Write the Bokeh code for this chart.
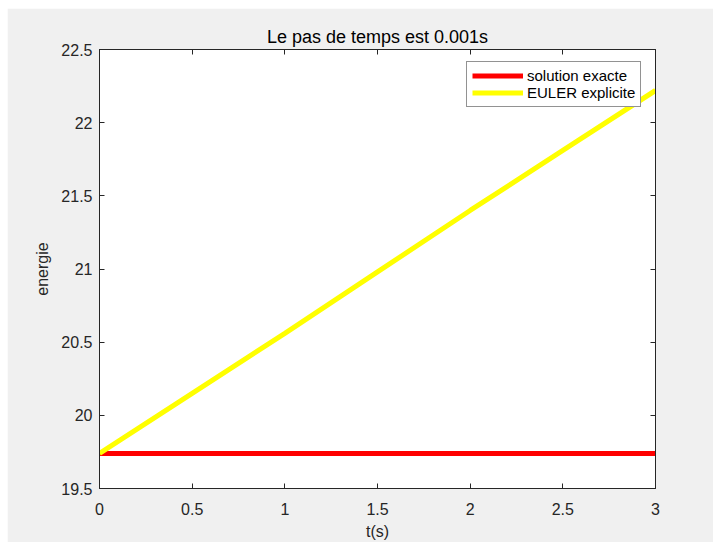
from bokeh.plotting import figure
from bokeh.models import LinearAxis, Range1d, Legend, LegendItem, FixedTicker
from bokeh.embed import file_html
from bokeh.resources import INLINE

# data
t = [0, 0.5, 1, 1.5, 2, 2.5, 3]
exact = [19.74, 19.74, 19.74, 19.74, 19.74, 19.74, 19.74]
euler = [19.74, 20.15, 20.56, 20.98, 21.40, 21.81, 22.22]
x_ticks = [0, 0.5, 1, 1.5, 2, 2.5, 3]
y_ticks = [19.5, 20, 20.5, 21, 21.5, 22, 22.5]
x_labels = {0: "0", 0.5: "0.5", 1: "1", 1.5: "1.5", 2: "2", 2.5: "2.5", 3: "3"}
y_labels = {19.5: "19.5", 20: "20", 20.5: "20.5", 21: "21", 21.5: "21.5", 22: "22", 22.5: "22.5"}

FONT = "Liberation Sans"
DARK = "#262626"

p = figure(width=706, height=534, output_backend="svg", toolbar_location=None,
           x_range=Range1d(0, 3), y_range=Range1d(19.5, 22.5),
           min_border_left=92, min_border_right=58, min_border_top=41, min_border_bottom=54,
           background_fill_color="white", border_fill_color="#f0f0f0",
           outline_line_color=DARK, outline_line_width=1,
           title="Le pas de temps est 0.001s")
p.margin = (8, 0, 0, 7)

p.title.align = "center"
p.title.text_font = FONT
p.title.text_font_size = "18px"
p.title.text_font_style = "normal"
p.title.text_color = "black"
p.title.standoff = 5

p.xgrid.visible = False
p.ygrid.visible = False

def style_axis(ax, labels=True):
    ax.axis_line_color = DARK
    ax.major_tick_line_color = DARK
    ax.major_tick_in = 5
    ax.major_tick_out = 0
    ax.minor_tick_line_color = None
    ax.major_label_text_font = FONT
    ax.major_label_text_font_size = "16px" if labels else "0px"
    ax.major_label_text_color = DARK
    ax.axis_label_text_font = FONT
    ax.axis_label_text_font_size = "16px"
    ax.axis_label_text_font_style = "normal"
    ax.axis_label_text_color = DARK

xa = p.xaxis[0]
xa.ticker = FixedTicker(ticks=x_ticks)
xa.major_label_overrides = x_labels
xa.axis_label = "t(s)"
style_axis(xa)
xa.major_label_standoff = 14
xa.axis_label_standoff = 5

ya = p.yaxis[0]
ya.ticker = FixedTicker(ticks=y_ticks)
ya.major_label_overrides = y_labels
ya.axis_label = "energie"
style_axis(ya)
ya.major_label_standoff = 7
ya.axis_label_standoff = 7

top = LinearAxis(ticker=FixedTicker(ticks=x_ticks), major_label_standoff=0, axis_label_standoff=0)
style_axis(top, labels=False)
p.add_layout(top, "above")
right = LinearAxis(ticker=FixedTicker(ticks=y_ticks), major_label_standoff=0, axis_label_standoff=0)
style_axis(right, labels=False)
p.add_layout(right, "right")

r1 = p.line(t, exact, line_color="#ff0000", line_width=5)
r2 = p.line(t, euler, line_color="#ffff00", line_width=5)

legend = Legend(items=[LegendItem(label="solution exacte", renderers=[r1]),
                       LegendItem(label="EULER explicite", renderers=[r2])],
                location=(367, 381), padding=5, spacing=0, margin=0,
                glyph_width=51, glyph_height=17, label_height=17, label_standoff=4,
                label_text_font=FONT, label_text_font_size="15px", label_text_color="black",
                border_line_color=DARK, border_line_width=1,
                background_fill_color="white", background_fill_alpha=1)
p.add_layout(legend, "center")

open("out.html", "w").write(file_html(p, INLINE))
